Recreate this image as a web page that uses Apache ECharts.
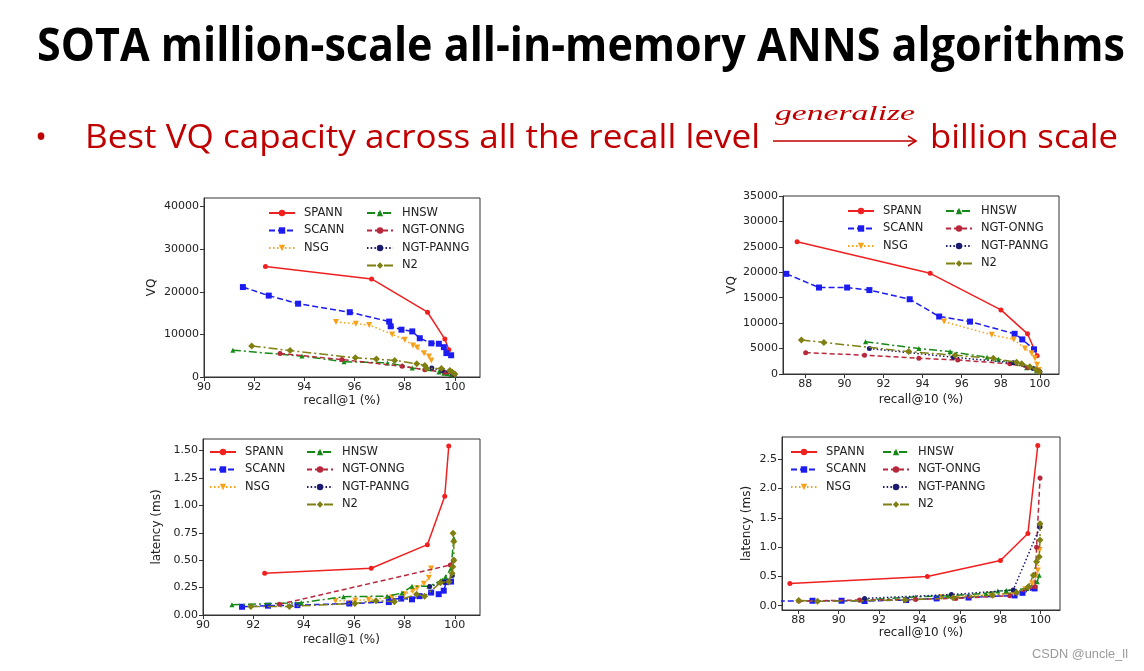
<!DOCTYPE html>
<html>
<head>
<meta charset="utf-8">
<script src="https://cdn.jsdelivr.net/npm/echarts@6/dist/echarts.min.js"></script>
<style>
html,body{margin:0;padding:0;background:#fff;}
#main{width:1144px;height:671px;}
</style>
</head>
<body>
<div id="main"></div>
<script>
// ---------- DATA ----------
const seriesNames = ['SPANN','SCANN','NSG','HNSW','NGT-ONNG','NGT-PANNG','N2'];
const legendCol1 = ['SPANN','SCANN','NSG'];
const legendCol2 = ['HNSW','NGT-ONNG','NGT-PANNG','N2'];

const xTicksR1 = [90,92,94,96,98,100];
const xTicksR10 = [88,90,92,94,96,98,100];
const yTicksVQ1 = [0,10000,20000,30000,40000];
const yTicksVQ10 = [0,5000,10000,15000,20000,25000,30000,35000];
const yTicksLat1 = [0,0.25,0.5,0.75,1.0,1.25,1.5];
const yTicksLat10 = [0,0.5,1.0,1.5,2.0,2.5];

// VQ vs recall@1
const vq1_SPANN = [[92.45,25900],[96.68,23000],[98.91,15200],[99.6,8900],[99.76,6400]];
const vq1_SCANN = [[91.55,21100],[92.58,19100],[93.75,17200],[95.81,15200],[97.38,13000],[97.44,11900],[97.87,11100],[98.3,10700],[98.6,9100],[99.06,7900],[99.36,7800],[99.56,7000],[99.66,5600],[99.85,5100]];
const vq1_NSG = [[95.26,12900],[96.05,12500],[96.58,12200],[97.5,10000],[98.0,8750],[98.33,7400],[98.5,6900],[98.77,5600],[98.97,4800],[99.06,3900]];
const vq1_HNSW = [[91.15,6300],[93.9,4900],[95.58,3600],[97.31,3300],[97.9,2700],[98.3,2100],[99.36,1200],[99.56,900],[99.7,800],[99.85,600],[99.96,400]];
const vq1_ONNG = [[93.03,5500],[95.5,4100],[97.9,2500],[98.8,1700],[99.6,1100],[99.96,500]];
const vq1_PANNG = [[99.08,2100],[99.5,1500],[99.9,900],[99.98,500]];
const vq1_N2 = [[91.9,7300],[93.43,6200],[96.03,4500],[96.87,4200],[97.6,3900],[98.48,3100],[98.8,2700],[98.88,2000],[99.46,2000],[99.8,1500],[99.9,1100],[100,700]];

// VQ vs recall@10
const vq10_SPANN = [[87.58,26000],[94.39,19800],[98.01,12600],[99.37,7900],[99.86,3600]];
const vq10_SCANN = [[87.03,19700],[88.7,17000],[90.14,17000],[91.28,16500],[93.34,14700],[94.85,11300],[96.43,10300],[98.71,7900],[99.1,6800],[99.7,4850]];
const vq10_NSG = [[95.1,10300],[97.54,7700],[98.66,6800],[99.24,5000],[99.58,4100],[99.75,3100],[99.86,1800],[99.95,800]];
const vq10_HNSW = [[91.08,6350],[93.81,5000],[95.41,4400],[97.3,3300],[97.88,2900],[99.32,1250],[99.83,650]];
const vq10_ONNG = [[88.02,4200],[91.03,3700],[93.81,3100],[95.8,2750],[98.47,2000],[99.4,1300],[99.92,650]];
const vq10_PANNG = [[91.28,5000],[95.58,3300],[98.64,2200],[99.66,1100],[100,450]];
const vq10_N2 = [[87.8,6700],[88.95,6200],[93.29,4400],[95.67,3700],[97.62,3100],[98.81,2300],[99.07,2000],[99.49,1450],[99.8,900],[99.97,450]];

// latency vs recall@1
const lat1_SPANN = [[92.45,0.38],[96.68,0.426],[98.91,0.642],[99.6,1.083],[99.76,1.542]];
const lat1_SCANN = [[91.55,0.075],[92.58,0.085],[93.75,0.09],[95.81,0.105],[97.38,0.118],[97.44,0.146],[97.87,0.15],[98.3,0.143],[98.6,0.172],[99.06,0.205],[99.36,0.19],[99.56,0.222],[99.66,0.3],[99.85,0.305]];
const lat1_NSG = [[95.26,0.128],[96.05,0.133],[96.58,0.14],[97.5,0.16],[98.0,0.19],[98.33,0.22],[98.5,0.245],[98.77,0.285],[98.97,0.34],[99.06,0.425]];
const lat1_HNSW = [[91.15,0.093],[93.9,0.112],[95.58,0.167],[97.31,0.172],[97.9,0.2],[98.3,0.262],[98.97,0.262],[99.43,0.312],[99.63,0.35],[99.85,0.426],[99.96,0.70]];
const lat1_ONNG = [[93.03,0.097],[99.82,0.456],[99.96,0.5]];
const lat1_PANNG = [[99.0,0.26],[99.57,0.30],[99.9,0.36]];
const lat1_N2 = [[91.9,0.078],[93.43,0.078],[96.03,0.106],[96.87,0.131],[97.6,0.122],[98.48,0.189],[98.8,0.17],[99.43,0.295],[99.76,0.304],[99.89,0.38],[99.92,0.44],[99.96,0.5],[99.96,0.67],[99.93,0.745]];

// latency vs recall@10
const lat10_SPANN = [[87.58,0.38],[94.39,0.5],[98.01,0.773],[99.37,1.233],[99.86,2.735]];
const lat10_SCANN = [[87.03,0.08],[88.7,0.085],[90.14,0.085],[91.28,0.08],[93.34,0.097],[94.85,0.125],[96.43,0.14],[98.71,0.176],[99.1,0.22],[99.7,0.295]];
const lat10_NSG = [[95.1,0.15],[97.54,0.19],[98.66,0.21],[99.24,0.28],[99.58,0.38],[99.75,0.5],[99.86,0.6],[99.95,0.95]];
const lat10_HNSW = [[91.08,0.097],[93.81,0.15],[95.41,0.17],[97.3,0.21],[97.88,0.25],[98.3,0.26],[99.32,0.295],[99.83,0.41],[99.93,0.52]];
const lat10_ONNG = [[88.02,0.08],[91.03,0.097],[93.81,0.108],[95.8,0.125],[98.47,0.17],[99.72,0.324],[99.8,1.0],[99.97,2.18]];
const lat10_PANNG = [[91.28,0.125],[95.58,0.19],[98.64,0.267],[99.97,1.347]];
const lat10_N2 = [[88.02,0.09],[88.95,0.075],[93.29,0.097],[95.67,0.136],[97.62,0.18],[98.81,0.227],[99.39,0.324],[99.64,0.52],[99.8,0.75],[99.93,0.835],[99.97,1.12],[99.97,1.4]];

const titleText = 'SOTA million-scale all-in-memory ANNS algorithms';
const subText1 = 'Best VQ capacity across all the recall level';
const arrowText = 'generalize';
const subText2 = 'billion scale';
const watermark = 'CSDN @uncle_ll';

// ---------- STYLES ----------
const styles = {
  'SPANN':     {color:'#f02020', type:'solid',          symbol:'circle',   size:5, rot:0},
  'SCANN':     {color:'#1c1cf0', type:[6,3],            symbol:'rect',     size:6, rot:0},
  'NSG':       {color:'#f8a21c', type:[1.5,2.5],        symbol:'triangle', size:6, rot:180},
  'HNSW':      {color:'#168a16', type:[8,3,2,3],        symbol:'triangle', size:5, rot:0},
  'NGT-ONNG':  {color:'#b8283c', type:[5,3],            symbol:'circle',   size:5, rot:0},
  'NGT-PANNG': {color:'#1a1a70', type:[1.5,2.2],        symbol:'circle',   size:5, rot:0},
  'N2':        {color:'#7f7f12', type:[9,3,2,3],        symbol:'diamond',  size:7, rot:0}
};

const chartData = [
  [vq1_SPANN,vq1_SCANN,vq1_NSG,vq1_HNSW,vq1_ONNG,vq1_PANNG,vq1_N2],
  [vq10_SPANN,vq10_SCANN,vq10_NSG,vq10_HNSW,vq10_ONNG,vq10_PANNG,vq10_N2],
  [lat1_SPANN,lat1_SCANN,lat1_NSG,lat1_HNSW,lat1_ONNG,lat1_PANNG,lat1_N2],
  [lat10_SPANN,lat10_SCANN,lat10_NSG,lat10_HNSW,lat10_ONNG,lat10_PANNG,lat10_N2]
];

const grids = [
  {left:204, top:198, width:276, height:179},
  {left:783, top:196, width:276, height:178},
  {left:203, top:439, width:277, height:176},
  {left:782, top:437, width:278, height:173}
];
const xRanges = [[90,101],[86.86,100.98],[90,101],[87.19,100.96]];
const yRanges = [[0,42000],[0,35000],[0,1.606],[-0.073,2.88]];
const xTickSets = [xTicksR1, xTicksR10, xTicksR1, xTicksR10];
const yTickSets = [yTicksVQ1, yTicksVQ10, yTicksLat1, yTicksLat10];
const xNames = ['recall@1 (%)','recall@10 (%)','recall@1 (%)','recall@10 (%)'];
const yNames = ['VQ','VQ','latency (ms)','latency (ms)'];
const xNameGaps = [18,20,19,17];
const yNameGaps = [46,45,40,29];
const yFormat = [v=>String(v), v=>String(v), v=>v.toFixed(2), v=>v.toFixed(1)];
const legendPos = [
  {c1:[268,206], c2:[366,206]},
  {c1:[847,204], c2:[945,204]},
  {c1:[209,445], c2:[306,445]},
  {c1:[790,445], c2:[882,445]}
];

const FONT = 'DejaVu Sans';
const axisColor = '#333';

const option = {
  animation:false,
  backgroundColor:'#ffffff',
  grid: grids.map(g => Object.assign({show:true, borderColor:axisColor, borderWidth:1, backgroundColor:'#fff'}, g)),
  xAxis: grids.map((g,i) => ({
    type:'value', gridIndex:i, min:xRanges[i][0], max:xRanges[i][1],
    name:xNames[i], nameLocation:'middle', nameGap:xNameGaps[i],
    nameTextStyle:{fontFamily:FONT, fontSize:12, color:'#222'},
    axisLine:{show:true, onZero:false, lineStyle:{color:axisColor, width:1}},
    axisTick:{show:true, length:4, lineStyle:{color:axisColor}, customValues:xTickSets[i]},
    axisLabel:{fontFamily:FONT, fontSize:11, color:'#222', margin:5, customValues:xTickSets[i], formatter:v=>String(v)},
    splitLine:{show:false}
  })),
  yAxis: grids.map((g,i) => ({
    type:'value', gridIndex:i, min:yRanges[i][0], max:yRanges[i][1],
    name:yNames[i], nameLocation:'middle', nameGap:yNameGaps[i], nameRotate:90,
    nameTextStyle:{fontFamily:FONT, fontSize:12, color:'#222'},
    axisLine:{show:true, onZero:false, lineStyle:{color:axisColor, width:1}},
    axisTick:{show:true, length:4, lineStyle:{color:axisColor}, customValues:yTickSets[i]},
    axisLabel:{fontFamily:FONT, fontSize:11, color:'#222', margin:5, customValues:yTickSets[i], formatter:yFormat[i]},
    splitLine:{show:false}
  })),
  legend: [],
  series: [],
  graphic: []
};

legendPos.forEach((p) => {
  [[legendCol1,p.c1],[legendCol2,p.c2]].forEach(([names,pos]) => {
    option.legend.push({
      orient:'vertical', left:pos[0], top:pos[1], data:names,
      itemWidth:26, itemHeight:8, itemGap:3.5, padding:0,
      textStyle:{fontFamily:FONT, fontSize:11.5, color:'#222', lineHeight:14, padding:[0,0,0,4]},
      selectedMode:false
    });
  });
});

chartData.forEach((arrs, ci) => {
  arrs.forEach((d, si) => {
    const name = seriesNames[si];
    const s = styles[name];
    option.series.push({
      type:'line', name:name, xAxisIndex:ci, yAxisIndex:ci, data:d,
      symbol:s.symbol, symbolSize:s.size, symbolRotate:s.rot, showSymbol:true,
      clip:true,
      lineStyle:{color:s.color, width:1.5, type:s.type},
      itemStyle:{color:s.color, borderWidth:0},
      emphasis:{disabled:true},
      z: 2 + si
    });
  });
});

// ---------- TEXT (graphic) ----------
const cv = document.createElement('canvas').getContext('2d');
function fitScale(text, font, target){ cv.font = font; const w = cv.measureText(text).width; return w>0 ? target/w : 1; }

const RED = '#c00000';
const titleFont = 'bold 46px "Open Sans"';
const subFont = '32px "Open Sans"';
const genFont = 'italic 22px "Liberation Serif"';
const T = {align:'left', verticalAlign:'top'};
option.graphic = [
  {type:'text', x:37, y:25, scaleX:fitScale(titleText,titleFont,1088),
   style:Object.assign({text:titleText, font:titleFont, fill:'#000'}, T)},
  {type:'text', x:35, y:123,
   style:Object.assign({text:'\u2022', font:subFont, fill:RED}, T)},
  {type:'text', x:85, y:123, scaleX:fitScale(subText1,subFont,675),
   style:Object.assign({text:subText1, font:subFont, fill:RED}, T)},
  {type:'text', x:775, y:103, scaleX:fitScale(arrowText,genFont,140),
   style:Object.assign({text:arrowText, font:genFont, fill:RED}, T)},
  {type:'line', shape:{x1:773, y1:141, x2:915, y2:141}, style:{stroke:RED, lineWidth:1.6}},
  {type:'polyline', shape:{points:[[908,136],[916,141],[908,146]]}, style:{stroke:RED, lineWidth:1.6, fill:null}},
  {type:'text', x:930, y:123, scaleX:fitScale(subText2,subFont,188),
   style:Object.assign({text:subText2, font:subFont, fill:RED}, T)},
  {type:'text', x:1032, y:649, scaleX:fitScale(watermark,'12px "Liberation Sans"',96),
   style:Object.assign({text:watermark, font:'12px "Liberation Sans"', fill:'#9a9a9a'}, T)}
];

const chart = echarts.init(document.getElementById('main'), null, {renderer:'canvas'});
chart.setOption(option);
</script>
</body>
</html>
